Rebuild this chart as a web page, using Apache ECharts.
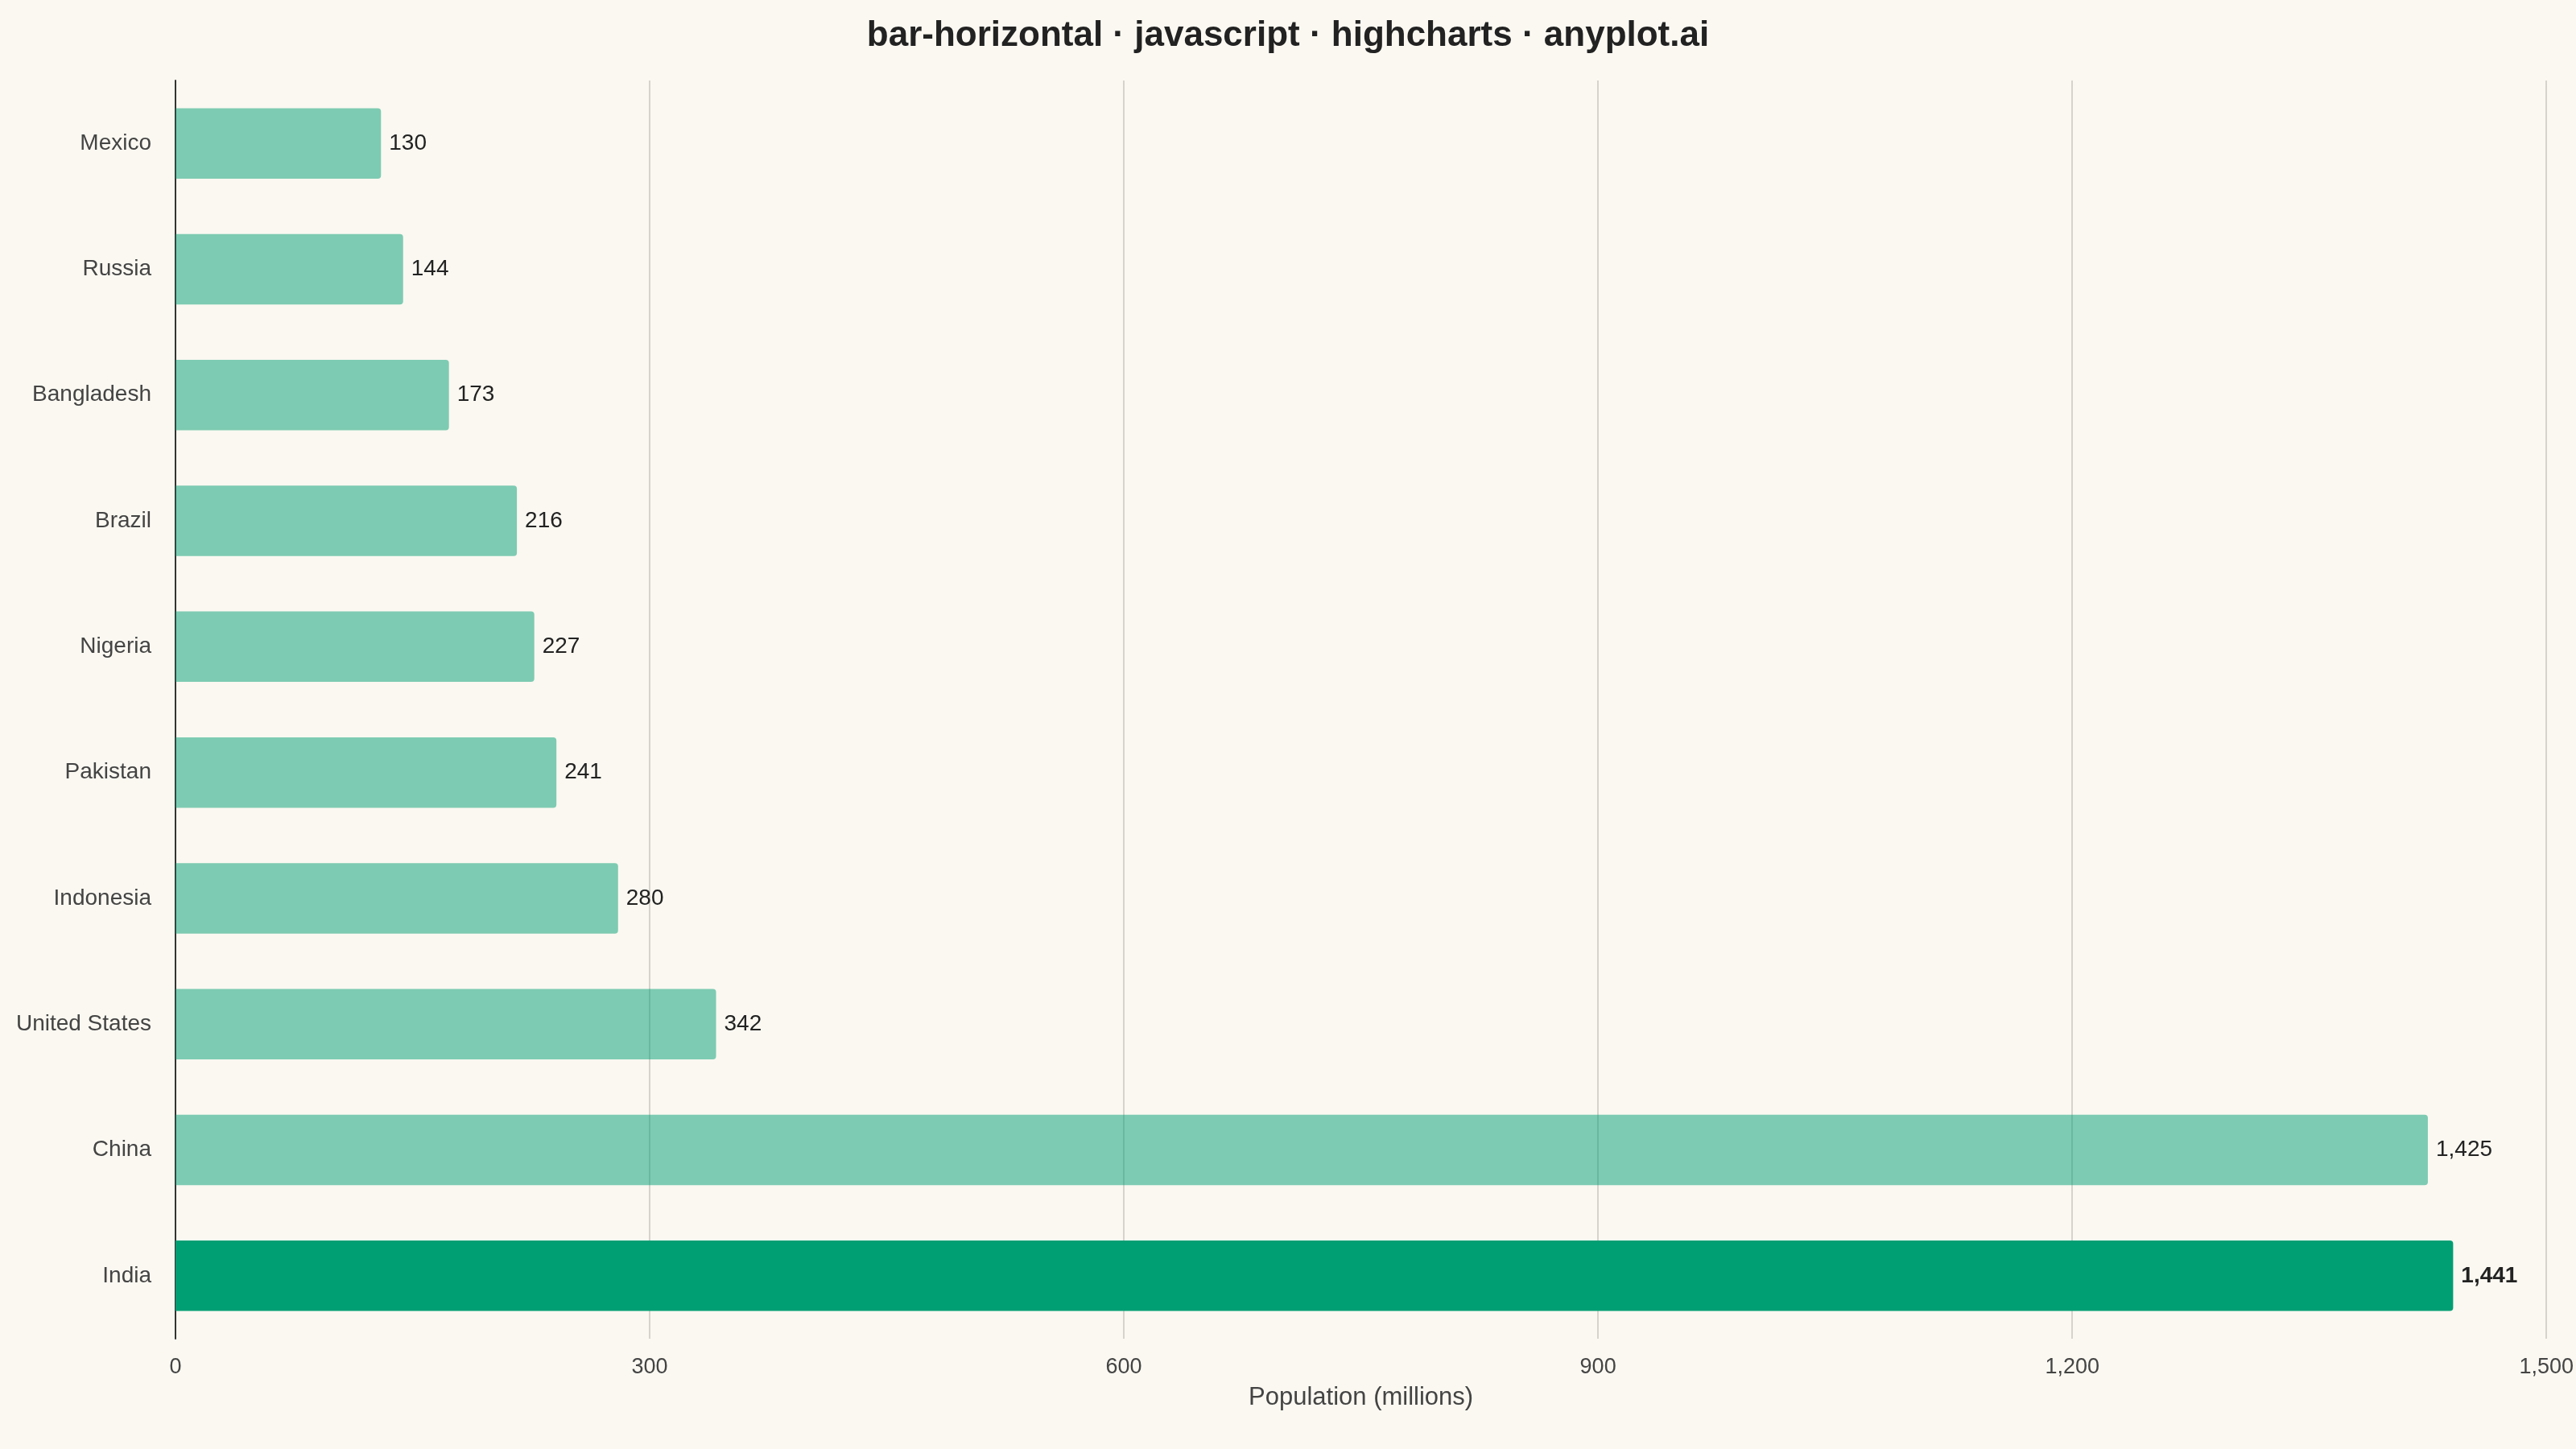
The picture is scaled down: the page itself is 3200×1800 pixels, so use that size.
<!DOCTYPE html>
<html><head><meta charset="utf-8">
<script src="https://cdn.jsdelivr.net/npm/echarts@6/dist/echarts.min.js"></script>
<style>html,body{margin:0;background:#FAF8F1}#c{width:3200px;height:1800px}</style>
</head><body><div id="c"></div>
<script>
const countries = ['India','China','United States','Indonesia','Pakistan','Nigeria','Brazil','Bangladesh','Russia','Mexico'];
const population = [1441,1425,342,280,241,227,216,173,144,130];
const xTicks = [0,300,600,900,1200,1500];
const chart = echarts.init(document.getElementById('c'));
chart.setOption({
  backgroundColor:'#FAF8F1',
  title:{text:'bar-horizontal · javascript · highcharts · anyplot.ai',left:'center',top:18,
    textStyle:{fontFamily:'Liberation Sans',fontSize:44,fontWeight:'bold',color:'#222'}},
  grid:{left:218,right:20,top:100,bottom:137},
  xAxis:{type:'value',min:0,max:1500,interval:300,
    name:'Population (millions)',nameLocation:'middle',nameGap:58,
    nameTextStyle:{fontFamily:'Liberation Sans',fontSize:31,color:'#444'},
    axisLabel:{fontFamily:'Liberation Sans',fontSize:27,color:'#444',margin:22},
    axisLine:{show:false},axisTick:{show:false},
    splitLine:{lineStyle:{color:'#D5D3CC',width:2}}},
  yAxis:{type:'category',data:countries,
    axisLabel:{fontFamily:'Liberation Sans',fontSize:28,color:'#444',margin:30},
    axisLine:{lineStyle:{color:'#333',width:2}},axisTick:{show:false}},
  series:[{type:'bar',barWidth:'56%',
    data:population.map((v,i)=>({value:v,
      itemStyle:{color:i===0?'#009E73':'rgba(0,158,115,0.5)',borderRadius:[0,4,4,0]},
      label:{fontWeight:i===0?'bold':'normal'}})),
    label:{show:true,position:'right',distance:10,fontFamily:'Liberation Sans',fontSize:28,color:'#222',
      formatter:p=>p.value.toLocaleString('en-US')}}]
});
</script></body></html>
